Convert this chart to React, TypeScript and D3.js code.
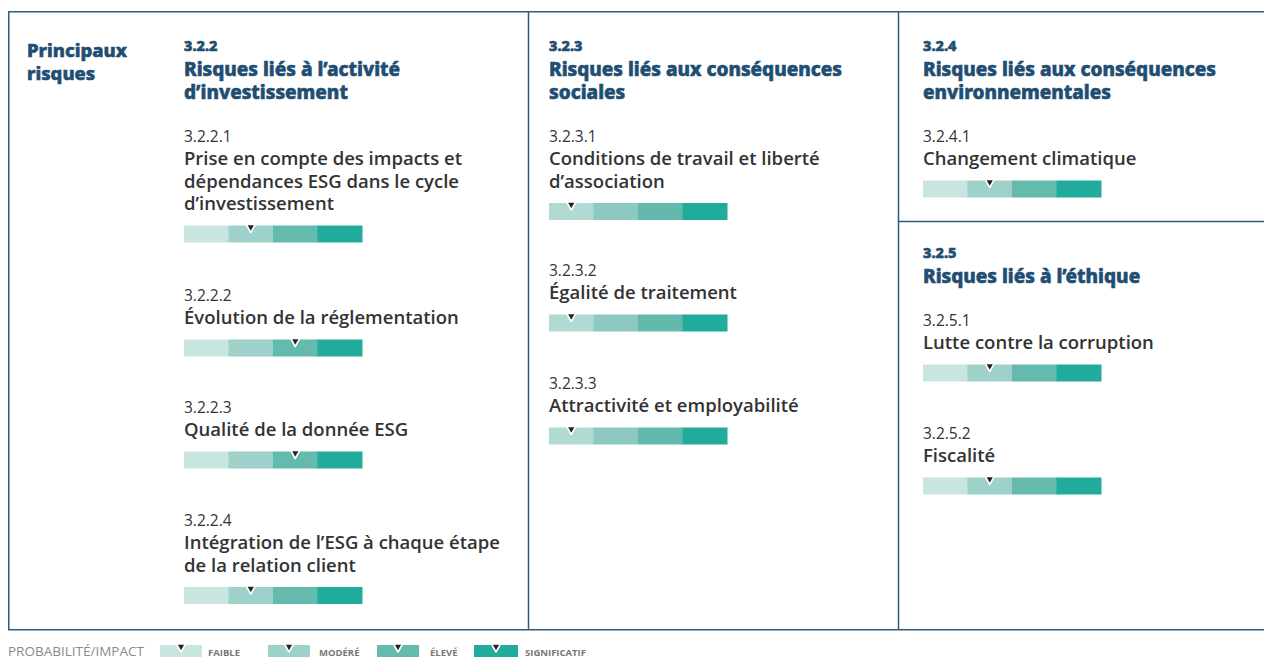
import React from "react";
import * as d3 from "d3";

const levelLabels = ["FAIBLE", "MODÉRÉ", "ÉLEVÉ", "SIGNIFICATIF"];
const paletteA = ["#c9e5e0", "#9ed1ca", "#64baad", "#20ab9c"];
const paletteB = ["#b2dad5", "#8dc9c1", "#63b9ac", "#20ab9c"];

const sectionCodes = ["3.2.2", "3.2.3", "3.2.4", "3.2.5"];
const sectionTitles = [
  ["Risques liés à l’activité", "d’investissement"],
  ["Risques liés aux conséquences", "sociales"],
  ["Risques liés aux conséquences", "environnementales"],
  ["Risques liés à l’éthique"],
];

const itemCodes = [
  ["3.2.2.1", "3.2.2.2", "3.2.2.3", "3.2.2.4"],
  ["3.2.3.1", "3.2.3.2", "3.2.3.3"],
  ["3.2.4.1"],
  ["3.2.5.1", "3.2.5.2"],
];
const itemTitles = [
  [
    ["Prise en compte des impacts et", "dépendances ESG dans le cycle", "d’investissement"],
    ["Évolution de la réglementation"],
    ["Qualité de la donnée ESG"],
    ["Intégration de l’ESG à chaque étape", "de la relation client"],
  ],
  [
    ["Conditions de travail et liberté", "d’association"],
    ["Égalité de traitement"],
    ["Attractivité et employabilité"],
  ],
  [["Changement climatique"]],
  [["Lutte contre la corruption"], ["Fiscalité"]],
];
// level index: 0 faible, 1 modéré, 2 élevé, 3 significatif
const itemLevels = [[1, 2, 2, 1], [0, 0, 0], [1], [1, 1]];

// layout
const sectionX = [184, 549, 923, 923];
const sectionY = [51, 51, 51, 258];
const itemY = [
  [142, 301, 413, 526],
  [142, 276, 389],
  [142],
  [326, 439],
];
const palettes = [paletteA, paletteB, paletteA, paletteA];

const BLUE = "#1f4e73";
const TEXT = "#333333";
const FONT = "'Open Sans', 'Noto Sans', sans-serif";
const HFONT = "'Noto Sans', 'Open Sans', sans-serif";

const barScale = d3.scaleBand<number>().domain([0, 1, 2, 3]).range([0, 178]).padding(0);

function Marker({ cx, top }: { cx: number; top: number }) {
  const w = 9, h = 8;
  return (
    <path
      d={`M${cx - w / 2},${top} L${cx + w / 2},${top} L${cx},${top + h} Z`}
      fill="#222"
      stroke="#fff"
      strokeWidth={1.6}
      strokeLinejoin="round"
    />
  );
}

function RiskBar({ x, y, level, palette }: { x: number; y: number; level: number; palette: string[] }) {
  const h = 17;
  return (
    <g>
      {palette.map((c, i) => (
        <rect key={i} x={x + barScale(i)!} y={y} width={barScale.bandwidth() + 0.5} height={h} fill={c} />
      ))}
      <Marker cx={x + barScale(level)! + barScale.bandwidth() / 2} top={y - 1} />
    </g>
  );
}

export default function App() {
  return (
    <svg
      width={1264}
      height={657}
      style={{ position: "absolute", left: 0, top: 0, display: "block", background: "#fff" }}
      fontFamily={FONT}
    >
      {/* frame */}
      <g stroke="#2e5c7e" strokeWidth={1.5} fill="none">
        <rect x={8.75} y={11.75} width={1300} height={618} />
        <line x1={528.5} y1={11.75} x2={528.5} y2={629.75} />
        <line x1={898.5} y1={11.75} x2={898.5} y2={629.75} />
        <line x1={898.5} y1={221.5} x2={1264} y2={221.5} />
      </g>

      <g fontFamily={HFONT} fill={BLUE} stroke={BLUE} strokeWidth={0.6} fontWeight={800}>
        <text x={27} y={57} fontSize={18.5}>Principaux</text>
        <text x={27} y={80} fontSize={18.5}>risques</text>
      </g>

      {sectionCodes.map((code, s) => (
        <g key={code}>
          <g fontFamily={HFONT} fill={BLUE} stroke={BLUE} strokeWidth={0.6} fontWeight={800}>
            <text x={sectionX[s]} y={sectionY[s]} fontSize={14.5}>{code}</text>
            {sectionTitles[s].map((t, k) => (
              <text key={k} x={sectionX[s]} y={sectionY[s] + 25 + k * 22.5} fontSize={19}>{t}</text>
            ))}
          </g>
          {itemCodes[s].map((ic, j) => {
            const y0 = itemY[s][j];
            const lines = itemTitles[s][j];
            const barY = y0 + 23 + (lines.length - 1) * 22.5 + 15.5;
            return (
              <g key={ic}>
                <text x={sectionX[s]} y={y0} fill={TEXT} fontSize={15.5}>{ic}</text>
                {lines.map((t, k) => (
                  <text key={k} x={sectionX[s]} y={y0 + 23 + k * 22.5} fill={TEXT} fontWeight={600} fontSize={18.5}>{t}</text>
                ))}
                <RiskBar x={sectionX[s]} y={barY} level={itemLevels[s][j]} palette={palettes[s]} />
              </g>
            );
          })}
        </g>
      ))}

      {/* legend */}
      <text x={8} y={656} fill="#8a8a8a" fontSize={13.5}>PROBABILITÉ/IMPACT</text>
      {levelLabels.map((lab, i) => {
        const sx = [160, 268, 377, 474][i];
        return (
          <g key={lab}>
            <rect x={sx} y={645} width={i === 3 ? 44 : 42} height={14} fill={paletteA[i]} />
            <Marker cx={sx + (i === 3 ? 22 : 21)} top={644} />
            <text x={sx + [48, 51, 53, 51][i]} y={656} fill="#777" fontSize={9.5} fontWeight={700}>{lab}</text>
          </g>
        );
      })}
    </svg>
  );
}
